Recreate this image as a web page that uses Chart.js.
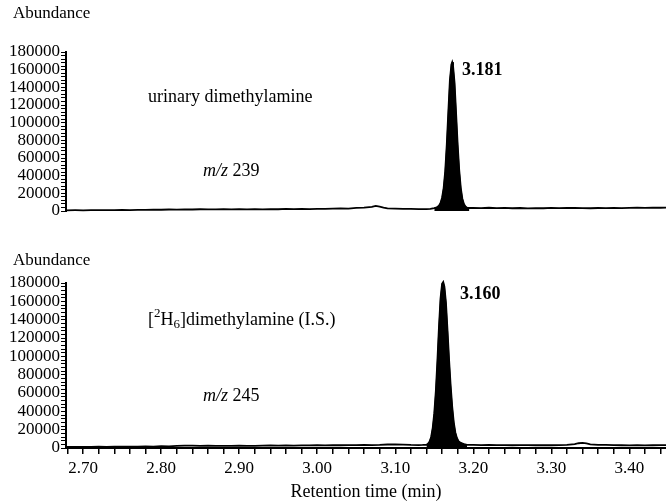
<!DOCTYPE html>
<html>
<head>
<meta charset="utf-8">
<script src="https://cdn.jsdelivr.net/npm/chart.js@4.4.0/dist/chart.umd.min.js"></script>
<style>
  body { margin: 0; background: #fff; }
  #wrap { position: relative; width: 666px; height: 503px; }
  #wrap canvas { position: absolute; left: 0; }
</style>
</head>
<body>
<div id="wrap">
  <canvas id="topChart" width="666" height="232" style="top:0"></canvas>
  <canvas id="botChart" width="666" height="271" style="top:232px"></canvas>
</div>
<script>
// tick labels
const yMajorTicks = [0, 20000, 40000, 60000, 80000, 100000, 120000, 140000, 160000, 180000];
const xMajorTicks = [2.70, 2.80, 2.90, 3.00, 3.10, 3.20, 3.30, 3.40];

// m/z 239 trace (urinary dimethylamine)
const topTime = [
  2.678, 2.69, 2.70, 2.71, 2.72, 2.73, 2.74, 2.75, 2.76, 2.77, 2.78, 2.79, 2.80, 2.81, 2.82, 2.83,
  2.84, 2.85, 2.86, 2.87, 2.88, 2.89, 2.90, 2.91, 2.92, 2.93, 2.94, 2.95, 2.96, 2.97, 2.98, 2.99,
  3.00, 3.01, 3.02, 3.03, 3.04, 3.05, 3.06, 3.07, 3.075, 3.08, 3.085, 3.09, 3.10, 3.11, 3.12, 3.13,
  3.14, 3.145, 3.15, 3.152, 3.154, 3.156, 3.158, 3.160, 3.162, 3.164, 3.166, 3.168, 3.170, 3.172,
  3.173, 3.174, 3.176, 3.178, 3.180, 3.182, 3.184, 3.186, 3.188, 3.190, 3.192, 3.195, 3.20, 3.21,
  3.22, 3.23, 3.24, 3.25, 3.26, 3.27, 3.28, 3.29, 3.30, 3.31, 3.32, 3.33, 3.34, 3.35, 3.36, 3.37,
  3.38, 3.39, 3.40, 3.41, 3.42, 3.43, 3.44, 3.447
];
const topAbundance = [
  800, 900, 800, 1000, 900, 1100, 1000, 1200, 1100, 1300, 1200, 1500, 1400, 1700, 1600, 1900,
  1700, 2000, 1800, 1900, 2100, 1900, 2000, 1800, 2100, 1900, 2200, 2000, 2300, 2100, 2400, 2200,
  2500, 2300, 2600, 3000, 2800, 3500, 3800, 4600, 5800, 5000, 3900, 3000, 2700, 2400, 2300, 2200,
  2100, 2400, 3300, 3800, 4500, 6000, 9000, 15000, 26000, 45000, 75000, 112000, 148000, 166000,
  168500, 165000, 145000, 110000, 75000, 46000, 26000, 14000, 8000, 5000, 3800, 3400, 3600, 3300,
  3700, 3200, 3500, 3100, 3400, 3000, 3300, 3100, 3500, 3200, 3400, 3600, 3300, 3100, 3400, 3200,
  3500, 3300, 3600, 3800, 3500, 3900, 3700, 3800
];
const topPeakRange = [3.150, 3.195];

// m/z 245 trace ([2H6]dimethylamine, I.S.)
const botTime = [
  2.678, 2.69, 2.70, 2.71, 2.72, 2.73, 2.74, 2.75, 2.76, 2.77, 2.78, 2.79, 2.80, 2.81, 2.82, 2.83,
  2.84, 2.85, 2.86, 2.87, 2.88, 2.89, 2.90, 2.91, 2.92, 2.93, 2.94, 2.95, 2.96, 2.97, 2.98, 2.99,
  3.00, 3.01, 3.02, 3.03, 3.04, 3.05, 3.06, 3.07, 3.08, 3.09, 3.10, 3.11, 3.12, 3.13, 3.135, 3.140,
  3.142, 3.144, 3.146, 3.148, 3.150, 3.152, 3.154, 3.156, 3.158, 3.160, 3.1615, 3.163, 3.165, 3.167,
  3.169, 3.171, 3.173, 3.175, 3.177, 3.179, 3.181, 3.184, 3.188, 3.192, 3.20, 3.21, 3.22, 3.23,
  3.24, 3.25, 3.26, 3.27, 3.28, 3.29, 3.30, 3.31, 3.32, 3.33, 3.335, 3.34, 3.345, 3.35, 3.36, 3.37,
  3.38, 3.39, 3.40, 3.41, 3.42, 3.43, 3.44, 3.447
];
const botAbundance = [
  1200, 1100, 1300, 1200, 1400, 1300, 1500, 1400, 1600, 1500, 1800, 1600, 2000, 1800, 2300, 2600,
  2500, 2400, 2500, 2300, 2400, 2300, 2500, 2400, 2300, 2600, 2900, 2700, 2800, 2700, 2900, 2800,
  3000, 2900, 3100, 3000, 3200, 3100, 3300, 3200, 3400, 3800, 4000, 3600, 3300, 3200, 3300, 3500,
  4500, 7000, 12000, 22000, 38000, 62000, 95000, 132000, 163000, 179000, 181000, 176000, 158000, 128000,
  96000, 68000, 45000, 28000, 17000, 11000, 7500, 5500, 4200, 3500, 3300, 3200, 3300, 3100,
  3200, 3000, 3200, 3100, 3000, 3200, 3000, 3100, 3300, 4200, 5200, 5600, 5000, 4000, 3500, 3300,
  3200, 3000, 2900, 3100, 2900, 3000, 3200, 3100
];
const botPeakRange = [3.138, 3.192];

const SERIF = '"Liberation Serif", "DejaVu Serif", serif';
const xMin = 2.678, xMax = 3.447;

function points(times, values, range) {
  const pts = [];
  times.forEach((t, i) => {
    if (!range || (t >= range[0] && t <= range[1])) pts.push({ x: t, y: values[i] });
  });
  return pts;
}

// draws runs of text (for italics, bold, super/subscripts)
function drawRuns(ctx, x, y, runs) {
  ctx.save();
  ctx.fillStyle = '#000';
  ctx.textBaseline = 'middle';
  ctx.textAlign = 'left';
  runs.forEach(r => {
    ctx.font = r.font;
    ctx.fillText(r.text, x, y + (r.dy || 0));
    x += ctx.measureText(r.text).width;
  });
  ctx.restore();
}

const fAb = '17px ' + SERIF;
const fTxt = '18px ' + SERIF;
const labelPlugin = (texts) => ({
  id: 'labels',
  afterDraw(chart) {
    texts.forEach(t => drawRuns(chart.ctx, t.x, t.y, t.runs));
  }
});

function yScale(max) {
  return {
    min: 0,
    max: max,
    afterFit: s => { s.width = 66; },
    border: { color: '#000', width: 2 },
    grid: { drawOnChartArea: false, tickLength: 5, color: '#000', lineWidth: 1 },
    ticks: {
      stepSize: 4000,
      autoSkip: false,
      includeBounds: false,
      padding: 1,
      color: '#000',
      font: { family: SERIF, size: 17 },
      callback: v => yMajorTicks.includes(v) ? String(v) : ''
    }
  };
}

function lineSets(times, values, range) {
  return [
    {
      data: points(times, values),
      borderColor: '#000',
      borderWidth: 1.8,
      pointRadius: 0,
      tension: 0,
      fill: false,
      clip: false
    },
    {
      data: points(times, values, range),
      borderColor: '#000',
      borderWidth: 1,
      backgroundColor: '#000',
      pointRadius: 0,
      tension: 0,
      fill: 'origin',
      clip: false
    }
  ];
}

const common = {
  responsive: false,
  animation: false,
  plugins: { legend: { display: false }, tooltip: { enabled: false } }
};

new Chart(document.getElementById('topChart'), {
  type: 'line',
  data: { datasets: lineSets(topTime, topAbundance, topPeakRange) },
  options: Object.assign({}, common, {
    layout: { padding: { top: 52, bottom: 21, left: 0, right: 0 } },
    scales: {
      x: { type: 'linear', min: xMin, max: xMax, display: false },
      y: yScale(180000)
    }
  }),
  plugins: [labelPlugin([
    { x: 13, y: 14, runs: [{ text: 'Abundance', font: fAb }] },
    { x: 148, y: 97, runs: [{ text: 'urinary dimethylamine', font: fTxt }] },
    { x: 203, y: 171, runs: [{ text: 'm/z', font: 'italic ' + fTxt }, { text: ' 239', font: fTxt }] },
    { x: 462, y: 70, runs: [{ text: '3.181', font: 'bold ' + fTxt }] }
  ])]
});

new Chart(document.getElementById('botChart'), {
  type: 'line',
  data: { datasets: lineSets(botTime, botAbundance, botPeakRange) },
  options: Object.assign({}, common, {
    layout: { padding: { top: 51, bottom: 0, left: 0, right: 0 } },
    scales: {
      x: {
        type: 'linear',
        min: xMin,
        max: xMax,
        afterFit: s => { s.height = 55; },
        border: { color: '#000', width: 2 },
        grid: { drawOnChartArea: false, tickLength: 6, color: '#000', lineWidth: 1.5 },
        ticks: {
          stepSize: 0.02,
          autoSkip: false,
          includeBounds: false,
          maxRotation: 0,
          padding: 4,
          color: '#000',
          font: { family: SERIF, size: 17 },
          callback: v => xMajorTicks.some(m => Math.abs(m - v) < 1e-6) ? v.toFixed(2) : ''
        },
        title: {
          display: true,
          text: 'Retention time (min)',
          color: '#000',
          font: { family: SERIF, size: 18 },
          padding: { top: 4, bottom: 0 }
        }
      },
      y: yScale(180000)
    }
  }),
  plugins: [labelPlugin([
    { x: 13, y: 29, runs: [{ text: 'Abundance', font: fAb }] },
    { x: 148, y: 88, runs: [
      { text: '[', font: fTxt },
      { text: '2', font: '13px ' + SERIF, dy: -6 },
      { text: 'H', font: fTxt },
      { text: '6', font: '13px ' + SERIF, dy: 5 },
      { text: ']dimethylamine (I.S.)', font: fTxt }
    ] },
    { x: 203, y: 164, runs: [{ text: 'm/z', font: 'italic ' + fTxt }, { text: ' 245', font: fTxt }] },
    { x: 460, y: 62, runs: [{ text: '3.160', font: 'bold ' + fTxt }] }
  ])]
});
</script>
</body>
</html>
